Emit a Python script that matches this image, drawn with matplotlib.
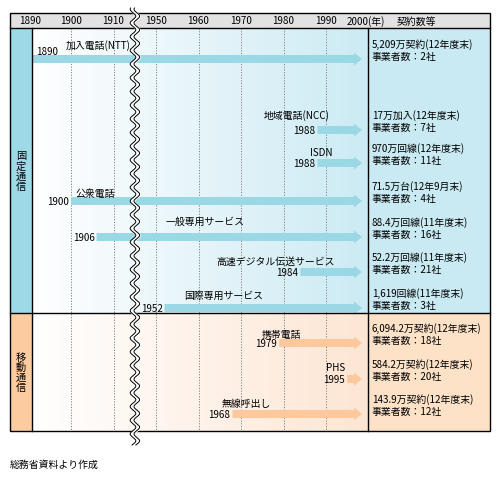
import numpy as np
import matplotlib.pyplot as plt
from matplotlib.patches import Polygon, Rectangle

plt.rcParams['font.family'] = ['Noto Sans CJK JP', 'DejaVu Sans']

# data
services = ['加入電話(NTT)', '地域電話(NCC)', 'ISDN', '公衆電話', '一般専用サービス',
            '高速デジタル伝送サービス', '国際専用サービス', '携帯電話', 'PHS', '無線呼出し']
start_years = [1890, 1988, 1988, 1900, 1906, 1984, 1952, 1979, 1995, 1968]
groups = ['fixed'] * 7 + ['mobile'] * 3
volumes = ['5,209万契約(12年度末)', '17万加入(12年度末)', '970万回線(12年度末)',
           '71.5万台(12年9月末)', '88.4万回線(11年度末)', '52.2万回線(11年度末)',
           '1,619回線(11年度末)', '6,094.2万契約(12年度末)', '584.2万契約(12年度末)',
           '143.9万契約(12年度末)']
operators = [2, 7, 11, 4, 16, 21, 3, 18, 20, 12]
tick_years = [1890, 1900, 1910, 1950, 1960, 1970, 1980, 1990, 2000]
group_names = {'fixed': '固定通信', 'mobile': '移動通信'}

# layout (pixels)
row_y = [60, 131, 164, 202, 238, 273, 309, 344, 380, 415]
name_pos = [(66, 46, 'left'), (297, 116, 'center'), (321, 153, 'center'),
            (75, 194, 'left'), (166, 222, 'left'), (216, 262, 'left'),
            (184, 296, 'left'), (281, 335, 'center'), (336, 368, 'center'),
            (222, 404, 'left')]
X0, X1, X2, X3 = 10, 32, 368, 490
Y_TOP, Y_HEAD, Y_MID, Y_BOT = 14, 29, 314, 432
BREAK_X = 133
FS = 7.1

colors = {'fixed': ('#9ddae8', '#9ad8e6', '#c9eaf2', (0.80, 0.92, 0.955)),
          'mobile': ('#fccca0', '#fcc89c', '#fde2c8', (0.995, 0.9, 0.83))}


def year_x(year):
    # axis broken between 1915 and 1945
    t = year - 1890 if year <= 1915 else year - 1920
    return 28.5 + 4.25 * t


fig = plt.figure(figsize=(5, 4.81), dpi=100)
ax = fig.add_axes([0, 0, 1, 1])
ax.set_xlim(0, 500)
ax.set_ylim(481, 0)
ax.axis('off')

# backgrounds
for g, (ya, yb) in [('fixed', (Y_HEAD, Y_MID)), ('mobile', (Y_MID, Y_BOT))]:
    side, arrow_c, right_c, grad_end = colors[g]
    ax.add_patch(Rectangle((X0, ya), X1 - X0, yb - ya, fc=side, ec='none'))
    grad = np.linspace(0, 1, 256)[None, :, None]
    img = (1 - grad) * np.ones(3) + grad * np.array(grad_end)
    ax.imshow(img, extent=(X1, X2, yb, ya), aspect='auto', zorder=0)
    ax.add_patch(Rectangle((X2, ya), X3 - X2, yb - ya, fc=right_c, ec='none'))
    label = '\n'.join(group_names[g])
    ax.text((X0 + X1) / 2, (ya + yb) / 2, label, ha='center', va='center',
            fontsize=7.4, linespacing=1.0)

# header
ax.add_patch(Rectangle((X0, Y_TOP), X3 - X0, Y_HEAD - Y_TOP, fc='#e2e2e2', ec='none'))
for yr in tick_years:
    x = year_x(yr)
    if yr == 2000:
        ax.text(347, (Y_TOP + Y_HEAD) / 2, '2000(年)', ha='left', va='center', fontsize=FS)
    else:
        ax.text(x + (2 if yr == 1890 else 0), (Y_TOP + Y_HEAD) / 2, str(yr),
                ha='center', va='center', fontsize=FS)
    if yr not in (1890, 2000):
        ax.plot([x, x], [Y_HEAD, Y_BOT], color='#808080', lw=0.7,
                ls=(0, (1.2, 1.6)), zorder=1)
ax.text(416, (Y_TOP + Y_HEAD) / 2, '契約数等', ha='center', va='center', fontsize=FS)

# grid lines of the table
lw = 1.0
ax.add_patch(Rectangle((X0, Y_TOP), X3 - X0, Y_BOT - Y_TOP, fc='none', ec='black', lw=lw, zorder=5))
ax.plot([X0, X3], [Y_HEAD, Y_HEAD], color='black', lw=lw, zorder=5)
ax.plot([X0, X3], [Y_MID, Y_MID], color='black', lw=lw, zorder=5)
ax.plot([X1, X1], [Y_HEAD, Y_BOT], color='black', lw=lw, zorder=5)
ax.plot([X2, X2], [Y_HEAD, Y_BOT], color='black', lw=lw, zorder=5)

# arrows
tip_x = 362
for i, name in enumerate(services):
    g = groups[i]
    c = colors[g][1]
    y = row_y[i]
    xs = max(year_x(start_years[i]), X1 + 0.5)
    body_end = tip_x - 8
    pts = [(xs, y - 4), (body_end, y - 4), (body_end, y - 6.5), (tip_x, y),
           (body_end, y + 6.5), (body_end, y + 4), (xs, y + 4)]
    ax.add_patch(Polygon(pts, closed=True, fc=c, ec='none', zorder=2))
    # year label
    if start_years[i] == 1890:
        ax.text(36, 52, str(start_years[i]), ha='left', va='center', fontsize=FS, zorder=6)
    else:
        ax.text(xs - 2, y + 0.5, str(start_years[i]), ha='right', va='center', fontsize=FS, zorder=6)
    nx, ny, ha = name_pos[i]
    ax.text(nx, ny, name, ha=ha, va='center', fontsize=FS, zorder=6)
    # right column
    ax.text(372, y - 15, volumes[i], ha='left', va='center', fontsize=FS)
    ax.text(372, y - 3, f'事業者数：{operators[i]}社', ha='left', va='center', fontsize=FS)

# break mark
yy = np.linspace(9, 446, 800)
xa = BREAK_X + 2.8 * np.sin(2 * np.pi * yy / 13.7)
xb = xa + 3.8
ax.fill_betweenx(yy, xa, xb, color='white', zorder=7)
ax.plot(xa, yy, color='black', lw=0.7, zorder=8)
ax.plot(xb, yy, color='black', lw=0.7, zorder=8)

ax.text(10, 465, '総務省資料より作成', ha='left', va='center', fontsize=FS)

fig.savefig('out.png', dpi=100)
